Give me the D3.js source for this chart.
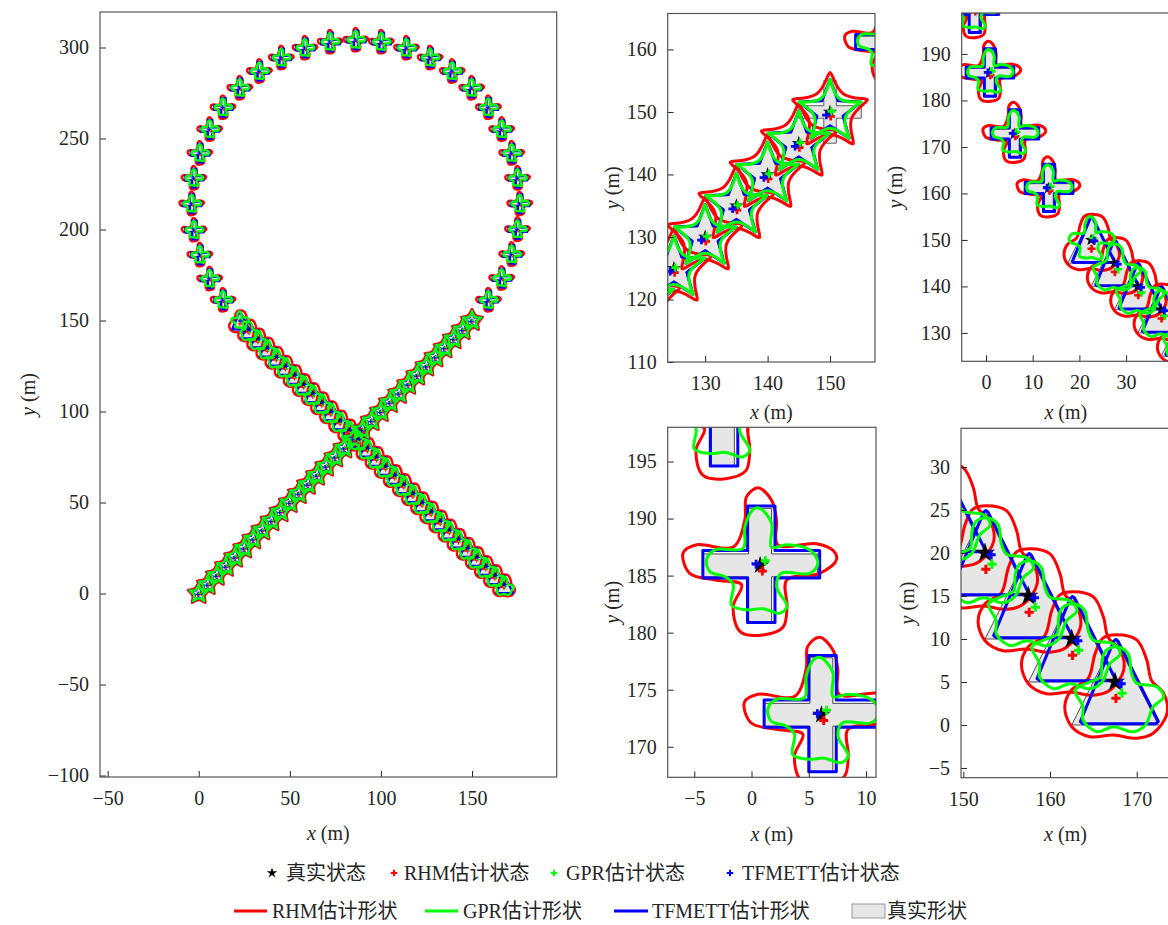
<!DOCTYPE html>
<meta charset="utf-8">
<style>
body { margin: 0; background: #fff; }
text { font-family: "Liberation Serif", "Noto Sans CJK SC", serif; fill: #262626; }
</style>
<body>
<script src="https://cdn.jsdelivr.net/npm/d3@7"></script>
<script>

// True target centres (m): straight leg, loop, return leg.
var truthX = [0, 5, 10, 15, 20, 25, 30, 35, 40, 45, 50, 55, 60, 65, 70, 75, 80, 85, 90, 95,
  100, 105, 110, 115, 120, 125, 130, 135, 140, 145, 150,
  159.1, 166.4, 171.9, 175.1, 176.3, 175.1, 171.9, 166.4, 159.1, 149.9, 139.2, 127.1, 114.1,
  100.3, 86.3, 72.2, 58.4, 45.4, 33.4, 22.6, 13.4, 6.1, 0.7, -2.6, -3.8, -2.5, 0.75, 6.1, 13.4,
  22.5, 27.5, 32.5, 37.5, 42.5, 47.5, 52.5, 57.5, 62.5, 67.5, 72.5, 77.5, 82.5, 87.5, 92.5,
  97.5, 102.5, 107.5, 112.5, 117.5, 122.5, 127.5, 132.5, 137.5, 142.5, 147.5, 152.5, 157.5, 162.5, 167.5];
var truthY = [0, 5, 10, 15, 20, 25, 30, 35, 40, 45, 50, 55, 60, 65, 70, 75, 80, 85, 90, 95,
  100, 105, 110, 115, 120, 125, 130, 135, 140, 145, 150,
  161.1, 173.1, 186.2, 199.9, 214.0, 228.1, 241.8, 254.9, 266.9, 277.6, 286.8, 294.2, 299.6,
  302.9, 304.0, 302.9, 299.6, 294.2, 286.8, 277.6, 266.9, 254.9, 241.8, 228.1, 214.0, 199.6, 185.9, 172.8, 161.1,
  150, 145, 140, 135, 130, 125, 120, 115, 110, 105, 100, 95, 90, 85, 80,
  75, 70, 65, 60, 55, 50, 45, 40, 35, 30, 25, 20, 15, 10, 5];

// Shape class per target (S star, C cross, T triangle)
var trueType = "SSSSSSSSSS" + "SSSSSSSSSS" + "SSSSSSSSSS" + "C" +
  "CCCCCCCCCC" + "CCCCCCCCCC" + "CCCCCCCCC" + "TTTTTTTTTT" + "TTTTTTTTTT" + "TTTTTTTTTT";
var rhmType = "SSSSSSSSSS" + "SSSSSSSSSS" + "SSSSSSSSSS" + "S" +
  "CCCCCCCCCC" + "CCCCCCCCCC" + "CCCCCCCCC" + "TTTTTTTTTT" + "TTTTTTTTTT" + "TTTTTTTTTT";
var gprType = "SSSSSSSSSS" + "SSSSSSSSSS" + "SSSSSSSSSS" + "S" +
  "CCCCCCCCCC" + "CCCCCCCCCC" + "CCCCCCCCC" + "C" + "TTTTTTTTT" + "TTTTTTTTTT" + "TTTTTTTTTT";
var tfmType = rhmType;

// Estimated-state offsets from the truth (m)
var rhmOff = {S: [0.1, -0.7], C: [0.2, -0.5], T: [0.1, -1.9]};
var gprOff = {S: [0.2, 0.1], C: [0.45, 0.4], T: [0.8, -1.3]};
var tfmOff = {S: [-0.6, -0.5], C: [-0.35, 0.1], T: [0.7, -0.2]};

// True shape outlines, relative to centre (m)
var starTrue = [[0, 5], [-1.18, 1.62], [-4.76, 1.55], [-1.9, -0.62], [-2.94, -4.05], [0, -2],
  [2.94, -4.05], [1.9, -0.62], [4.76, 1.55], [1.18, 1.62]];
var crossTrue = [[-1, 5], [1, 5], [1, 1], [5, 1], [5, -1], [1, -1], [1, -5], [-1, -5],
  [-1, -1], [-5, -1], [-5, 1], [-1, 1]];
var triTrue = [[-5, -5], [0, 5], [5, -5]];

// RHM estimated contours (star: spline control points)
var starRhm = [[0, 8.69], [-1.11, 1.53], [-8.26, 2.69], [-1.79, -0.58], [-5.11, -7.03], [0, -1.89],
  [5.11, -7.03], [1.79, -0.58], [8.26, 2.69], [1.11, 1.53]];
var crossRhm = [[-0.17, 6.8], [1.0, 5.7], [1.43, 4.0], [1.55, 1.8], [4.93, 1.9], [6.38, 1.3],
  [6.67, 0.5], [5.21, -0.7], [2.31, -1.3], [2.35, -3.6], [2.01, -5.4], [0.25, -6.1],
  [-1.75, -5.8], [-2.35, -3.6], [-1.62, -1.7], [-3.81, -1.3], [-6.15, -0.7], [-6.72, 1.1],
  [-5.55, 1.8], [-2.35, 1.6], [-1.33, 4.0], [-1.19, 6.0]];
var triRhm = [[0.2, 5.5], [2.5, 4.9], [3.65, 2.6], [4.2, 0.2], [5.6, -1.3], [6.0, -3.64],
  [4.4, -5.97], [2.5, -6.55], [-0.2, -6.16], [-2.9, -6.36], [-5.0, -5.2], [-5.8, -2.9],
  [-5.0, -0.9], [-3.1, 0.4], [-2.3, 3.3], [-1.4, 5.1]];

// GPR estimated contours (star: spline control points)
var starGpr = [[0, 7.44], [-0.52, 0.72], [-7.08, 2.3], [-0.85, -0.28], [-4.37, -6.02], [0, -0.89],
  [4.37, -6.02], [0.85, -0.28], [7.08, 2.3], [0.52, 0.72]];
var crossGpr = [[-0.03, 5.0], [1.0, 3.7], [1.0, 1.6], [2.31, 1.8], [4.35, 1.35], [5.05, 0.2],
  [4.35, -0.7], [1.85, -0.7], [1.45, -1.9], [2.35, -3.6], [1.72, -4.2], [0.25, -3.8],
  [-1.19, -3.9], [-2.5, -3.5], [-2.35, -1.7], [-3.05, -1.0], [-4.39, -0.55], [-4.68, 0.5],
  [-3.95, 1.35], [-1.48, 1.5], [-1.33, 3.4], [-0.6, 4.9]];
var triGpr = [[0.2, 4.1], [1.5, 3.3], [1.9, 1.0], [2.5, -0.15], [4.8, -0.55], [5.6, -1.7],
  [4.4, -2.9], [3.5, -5.0], [2.1, -5.78], [-0.2, -5.2], [-2.1, -5.78], [-3.7, -4.42],
  [-3.7, -2.9], [-4.6, -0.93], [-3.3, -0.15], [-1.7, 0.6], [-1.5, 2.6], [-1.0, 3.7]];

// TFMETT estimated contours
var starTfm = [[0, 5.2], [-1.29, 1.78], [-4.95, 1.61], [-2.09, -0.68], [-3.06, -4.21], [0, -2.2],
  [3.06, -4.21], [2.09, -0.68], [4.95, 1.61], [1.29, 1.78]];
var crossTfm = [[-1.1, 5.2], [1.3, 5.2], [1.3, 1.3], [5.2, 1.3], [5.2, -1.1], [1.3, -1.1],
  [1.3, -5.0], [-1.1, -5.0], [-1.1, -1.1], [-5.0, -1.1], [-5.0, 1.3], [-1.1, 1.3]];
var triTfm = [[-4.0, -4.6], [-3.7, -4.85], [4.7, -4.85], [5.0, -4.6], [0.35, 4.75], [0.1, 4.95], [-0.15, 4.75]];

var W = 1168, H = 925;
var svg = d3.select("body").append("svg")
    .attr("width", W)
    .attr("height", H);
var defs = svg.append("defs");

var trueTpl = {S: starTrue, C: crossTrue, T: triTrue},
    rhmTpl = {S: starRhm, C: crossRhm, T: triRhm},
    gprTpl = {S: starGpr, C: crossGpr, T: triGpr},
    tfmTpl = {S: starTfm, C: crossTfm, T: triTfm};

var catmull = d3.line().curve(d3.curveCatmullRomClosed.alpha(0.5)),
    basis = d3.line().curve(d3.curveBasisClosed),
    poly = d3.line().curve(d3.curveLinearClosed);
// smooth contours: stars from spline control points, the rest through read points
var smooth = {S: basis, C: catmull, T: catmull},
    straight = {S: poly, C: poly, T: poly};

var RED = "#ff0000", GREEN = "#00ff00", BLUE = "#0000ff";

var panels = [
  {id: "main", left: 100, right: 556.7, top: 12, bottom: 777,
   xd: [-54.2, 196.5], yd: [-100.8, 319.5],
   xt: [-50, 0, 50, 100, 150], yt: [-100, -50, 0, 50, 100, 150, 200, 250, 300],
   lw: 2.4, edge: 0.3, star: 2.6, plus: 2, plusW: 1, xlab: 833, ylab: 28},
  {id: "tm", left: 667.7, right: 875, top: 13.5, bottom: 362,
   xd: [124.0, 157.2], yd: [110, 165.75],
   xt: [130, 140, 150], yt: [110, 120, 130, 140, 150, 160],
   lw: 3, edge: 0.7, star: 7.5, plus: 4.2, plusW: 2.6, xlab: 412, ylab: 612},
  {id: "tr", left: 961.7, right: 1170, top: 13, bottom: 361.3,
   xd: [-5.2, 39.4], yd: [123.9, 198.8],
   xt: [0, 10, 20, 30], yt: [130, 140, 150, 160, 170, 180, 190],
   lw: 3, edge: 0.7, star: 6.5, plus: 4, plusW: 2.6, xlab: 412, ylab: 895},
  {id: "bm", left: 667.7, right: 876, top: 427.3, bottom: 777.3,
   xd: [-7.32, 10.87], yd: [167.32, 198.0],
   xt: [-5, 0, 5, 10], yt: [170, 175, 180, 185, 190, 195],
   lw: 3, edge: 0.8, star: 9.5, plus: 4.5, plusW: 2.8, xlab: 834, ylab: 612},
  {id: "br", left: 961, right: 1170, top: 428.3, bottom: 777.7,
   xd: [149.73, 173.84], yd: [-6.13, 34.5],
   xt: [150, 160, 170], yt: [-5, 0, 5, 10, 15, 20, 25, 30],
   lw: 3, edge: 0.8, star: 10.5, plus: 4.6, plusW: 3, xlab: 834, ylab: 907}
];

var idx = d3.range(truthX.length);

function plusPath(h) {
  return "M" + (-h) + ",0H" + h + "M0," + (-h) + "V" + h;
}

panels.forEach(function(p) {
  var x = d3.scaleLinear().domain(p.xd).range([p.left, p.right]),
      y = d3.scaleLinear().domain(p.yd).range([p.bottom, p.top]);

  defs.append("clipPath")
      .attr("id", "clip-" + p.id)
    .append("rect")
      .attr("x", p.left)
      .attr("y", p.top)
      .attr("width", p.right - p.left)
      .attr("height", p.bottom - p.top);

  var plot = svg.append("g").attr("clip-path", "url(#clip-" + p.id + ")");

  function outline(tpl, types, gens) {
    return function(i) {
      var t = tpl[types[i]];
      return gens[types[i]](t.map(function(d) { return [x(truthX[i] + d[0]), y(truthY[i] + d[1])]; }));
    };
  }

  plot.append("g").selectAll("path")
    .data(idx).enter().append("path")
      .attr("d", outline(trueTpl, trueType, straight))
      .attr("fill", "#e6e6e6")
      .attr("stroke", "#222")
      .attr("stroke-width", p.edge);

  [[rhmTpl, rhmType, smooth, RED],
   [tfmTpl, tfmType, straight, BLUE],
   [gprTpl, gprType, smooth, GREEN]].forEach(function(m) {
    plot.append("g").selectAll("path")
      .data(idx).enter().append("path")
        .attr("d", outline(m[0], m[1], m[2]))
        .attr("fill", "none")
        .attr("stroke", m[3])
        .attr("stroke-width", p.lw)
        .attr("stroke-linejoin", "round");
  });

  var star = d3.symbol().type(d3.symbolStar).size(p.star * p.star / 0.8908);
  plot.append("g").selectAll("path")
    .data(idx).enter().append("path")
      .attr("d", star)
      .attr("transform", function(i) { return "translate(" + x(truthX[i]) + "," + y(truthY[i]) + ")"; })
      .attr("fill", "#000");

  [[rhmOff, rhmType, RED], [gprOff, gprType, GREEN], [tfmOff, tfmType, BLUE]].forEach(function(m) {
    plot.append("g").selectAll("path")
      .data(idx).enter().append("path")
        .attr("d", plusPath(p.plus))
        .attr("transform", function(i) {
          var o = m[0][m[1][i]];
          return "translate(" + x(truthX[i] + o[0]) + "," + y(truthY[i] + o[1]) + ")";
        })
        .attr("stroke", m[2])
        .attr("stroke-width", p.plusW)
        .attr("fill", "none");
  });

  // axes, ticks pointing inward
  var gx = svg.append("g")
      .attr("transform", "translate(0," + p.bottom + ")")
      .call(d3.axisBottom(x).tickValues(p.xt).tickSizeInner(-6).tickSizeOuter(0).tickPadding(14));
  var gy = svg.append("g")
      .attr("transform", "translate(" + p.left + ",0)")
      .call(d3.axisLeft(y).tickValues(p.yt).tickSizeInner(-6).tickSizeOuter(0).tickPadding(11));
  [gx, gy].forEach(function(g) {
    g.select(".domain").remove();
    g.selectAll(".tick line").attr("stroke", "#262626");
    g.selectAll(".tick text")
      .style("font-family", "'Liberation Serif', serif")
      .style("font-size", "20px")
      .attr("fill", "#262626");
  });

  svg.append("rect")
      .attr("x", p.left)
      .attr("y", p.top)
      .attr("width", p.right - p.left)
      .attr("height", p.bottom - p.top)
      .attr("fill", "none")
      .attr("stroke", "#555")
      .attr("stroke-width", 1.2);

  var xl = svg.append("text")
      .attr("x", (p.left + p.right) / 2)
      .attr("y", p.xlab)
      .attr("dy", "0.35em")
      .attr("text-anchor", "middle")
      .style("font-size", "20px");
  xl.append("tspan").style("font-style", "italic").text("x");
  xl.append("tspan").text(" (m)");

  var yl = svg.append("text")
      .attr("transform", "translate(" + p.ylab + "," + ((p.top + p.bottom) / 2) + ") rotate(-90)")
      .attr("dy", "0.35em")
      .attr("text-anchor", "middle")
      .style("font-size", "20px");
  yl.append("tspan").style("font-style", "italic").text("y");
  yl.append("tspan").text(" (m)");
});

// legend
var legend = svg.append("g").style("font-size", "20px");

legend.append("path")
    .attr("d", d3.symbol().type(d3.symbolStar).size(30 / 0.8908)())
    .attr("transform", "translate(272,873)")
    .attr("fill", "#000");
legend.append("text").attr("x", 286).attr("y", 873).attr("dy", "0.35em").text("真实状态");

[[394, 404, RED, "RHM估计状态"], [554, 566, GREEN, "GPR估计状态"], [730, 742, BLUE, "TFMETT估计状态"]]
  .forEach(function(e) {
    legend.append("path")
        .attr("d", plusPath(3.2))
        .attr("transform", "translate(" + e[0] + ",873)")
        .attr("stroke", e[2])
        .attr("stroke-width", 2)
        .attr("fill", "none");
    legend.append("text").attr("x", e[1]).attr("y", 873).attr("dy", "0.35em").text(e[3]);
  });

[[234, 267, 272, RED, "RHM估计形状"], [425, 458, 463, GREEN, "GPR估计形状"], [614, 648, 652, BLUE, "TFMETT估计形状"]]
  .forEach(function(e) {
    legend.append("line")
        .attr("x1", e[0]).attr("x2", e[1])
        .attr("y1", 911).attr("y2", 911)
        .attr("stroke", e[3])
        .attr("stroke-width", 3);
    legend.append("text").attr("x", e[2]).attr("y", 911).attr("dy", "0.35em").text(e[4]);
  });

legend.append("rect")
    .attr("x", 852).attr("y", 904)
    .attr("width", 33).attr("height", 14)
    .attr("fill", "#e6e6e6")
    .attr("stroke", "#999")
    .attr("stroke-width", 1);
legend.append("text").attr("x", 887).attr("y", 911).attr("dy", "0.35em").text("真实形状");

</script>
</body>
